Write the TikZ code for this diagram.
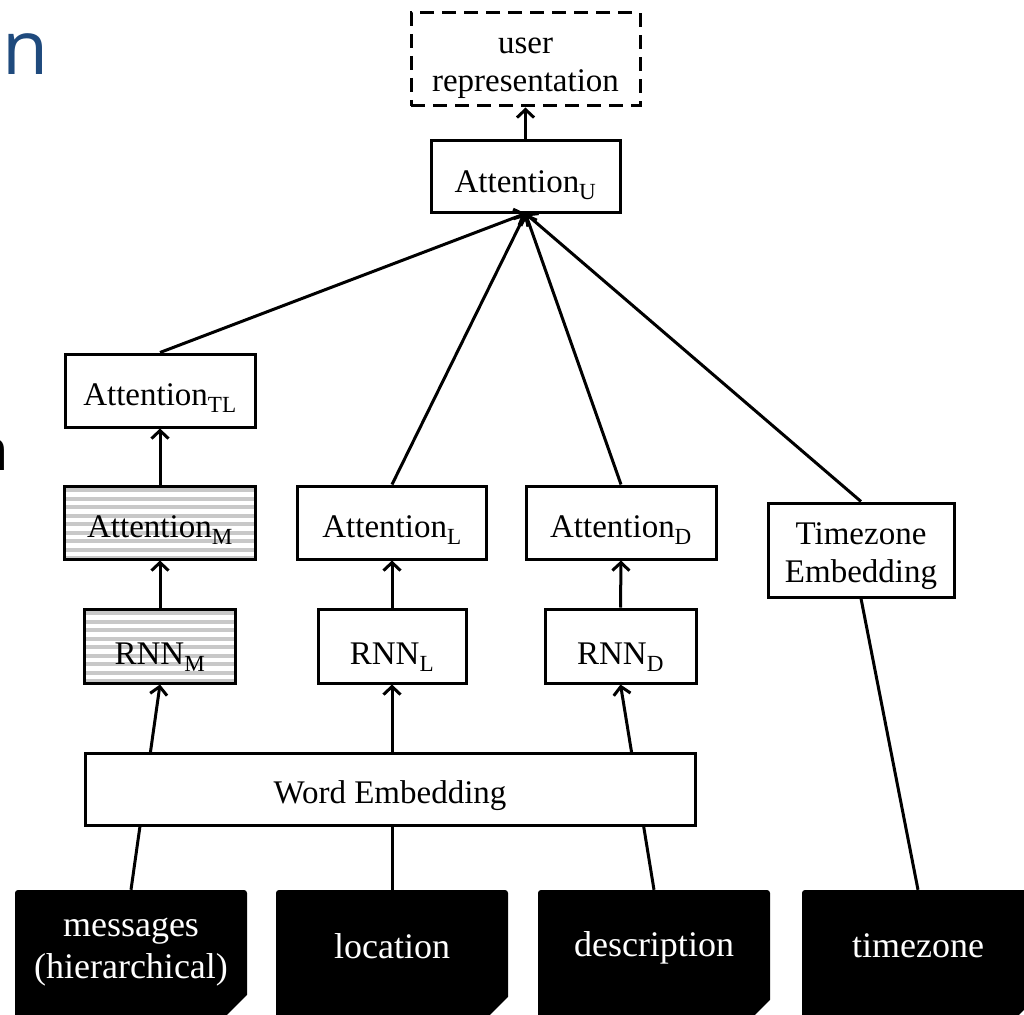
\documentclass[tikz,border=0pt]{standalone}
\usepackage{fontspec}
\setmainfont{Liberation Serif}
\newfontfamily\slidefont{Open Sans}
\usetikzlibrary{arrows.meta,calc}
\definecolor{slideblue}{RGB}{31,74,125}
\definecolor{stripegray}{RGB}{200,200,200}
\newcommand\toplift[1]{\rule{0pt}{#1}}
\tikzset{
  lift/.style={execute at begin node={\rule{0pt}{#1}}},
  box/.style={draw, line width=3pt, fill=white, inner sep=0pt, align=center,
    font=\fontsize{33}{38}\selectfont, lift=37pt},
  twoline/.style={box, execute at begin node={}},
  striped/.style={path picture={
    \foreach \k in {0,...,12}{
      \fill[stripegray] ($(path picture bounding box.north west)+(0pt,-\k*8.5pt-2pt)$)
        rectangle ++(400pt,-4pt);}}},
  inbox/.style={fill=black, rounded corners=3pt, inner sep=0pt,
    minimum width=232pt, minimum height=132pt},
  intext/.style={text=white, align=center, inner sep=0pt,
    font=\fontsize{36}{42}\selectfont},
  conn/.style={line width=3pt},
  arr/.style={conn, -{Straight Barb[length=8pt,width=17pt]}},
  corner/.style={fill=white},
}
\begin{document}
\begin{tikzpicture}[x=1pt,y=-1pt]
\useasboundingbox (0,0) rectangle (1024,1014);
\clip (0,0) rectangle (1024,1014);

% cut-off slide title letters
\node[anchor=base west, inner sep=0pt, text=slideblue,
  font=\slidefont\fontsize{75}{80}\selectfont] (ttl) at (2,75) {n};
\node[anchor=base west, inner sep=0pt,
  font=\slidefont\fontsize{58}{64}\selectfont] (ttl2) at (-27,470) {n};

% output
\node[twoline, dash pattern=on 14pt off 8pt, minimum width=229pt, minimum height=93pt]
  (rep) at (525.5,59.5) {\toplift{33pt}user\\representation};
\node[box, lift=40pt, minimum width=189pt, minimum height=72pt] (attU) at (525.5,176) {Attention\textsubscript{U}};

% messages branch
\node[box, lift=34pt, minimum width=190pt, minimum height=73pt] (attTL) at (160,390.5) {Attention\textsubscript{TL}};
\node[box, striped, minimum width=191pt, minimum height=73pt] (attM) at (160,522.5) {Attention\textsubscript{M}};
\node[box, striped, lift=44pt, minimum width=151pt, minimum height=74pt] (rnnM) at (160,646) {RNN\textsubscript{M}};

% location branch
\node[box, minimum width=189pt, minimum height=73pt] (attL) at (392,522.5) {Attention\textsubscript{L}};
\node[box, lift=44pt, minimum width=148pt, minimum height=74pt] (rnnL) at (392,646) {RNN\textsubscript{L}};

% description branch
\node[box, minimum width=190pt, minimum height=73pt] (attD) at (621,522.5) {Attention\textsubscript{D}};
\node[box, lift=44pt, minimum width=151pt, minimum height=74pt] (rnnD) at (620.5,646) {RNN\textsubscript{D}};

% timezone branch
\node[twoline, minimum width=186pt, minimum height=94pt] (tzemb) at (861,550) {\toplift{34pt}Timezone\\Embedding};

% inputs
\node[inbox] (msgbox) at (131,956) {};
\node[inbox] (locbox) at (392,956) {};
\node[inbox] (descbox) at (654,956) {};
\node[inbox] (tzbox) at (918,956) {};
\foreach \b/\c in {msgbox/995, locbox/997, descbox/1000, tzbox/1000}{
  \fill[corner] ($(\b.north east)+(0,\c-890)$) -- ++(-40,40) -- ++(60,0) -- ++(0,-40) -- cycle;
}
\node[intext] (msgtxt) at ([yshift=4pt]msgbox.center) {messages\\(hierarchical)};
\node[intext] (loctxt) at ([yshift=10pt]locbox.center) {location};
\node[intext] (desctxt) at ([yshift=8pt]descbox.center) {description};
\node[intext] (tztxt) at ([yshift=10pt]tzbox.center) {timezone};

% input lines, passing behind the word embedding
\draw[arr] (msgbox.north) -- (rnnM.south);
\draw[arr] (locbox.north) -- (rnnL.south);
\draw[arr] (descbox.north) -- (rnnD.south);
\draw[conn] (tzbox.north) -- (tzemb.south);

\node[box, minimum width=610pt, minimum height=72pt] (wemb) at (390,789) {Word Embedding};

% upward flow
\draw[arr] (rnnM.north) -- (attM.south);
\draw[arr] (attM.north) -- (attTL.south);
\draw[arr] (rnnL.north) -- (attL.south);
\draw[arr] (rnnD.north) -- (attD.south);
\draw[arr] (attTL.north) -- (attU.south);
\draw[arr] (attL.north) -- (attU.south);
\draw[arr] (attD.north) -- (attU.south);
\draw[arr] (tzemb.north) -- (attU.south);
\draw[arr] (attU.north) -- (rep.south);
\end{tikzpicture}
\end{document}
